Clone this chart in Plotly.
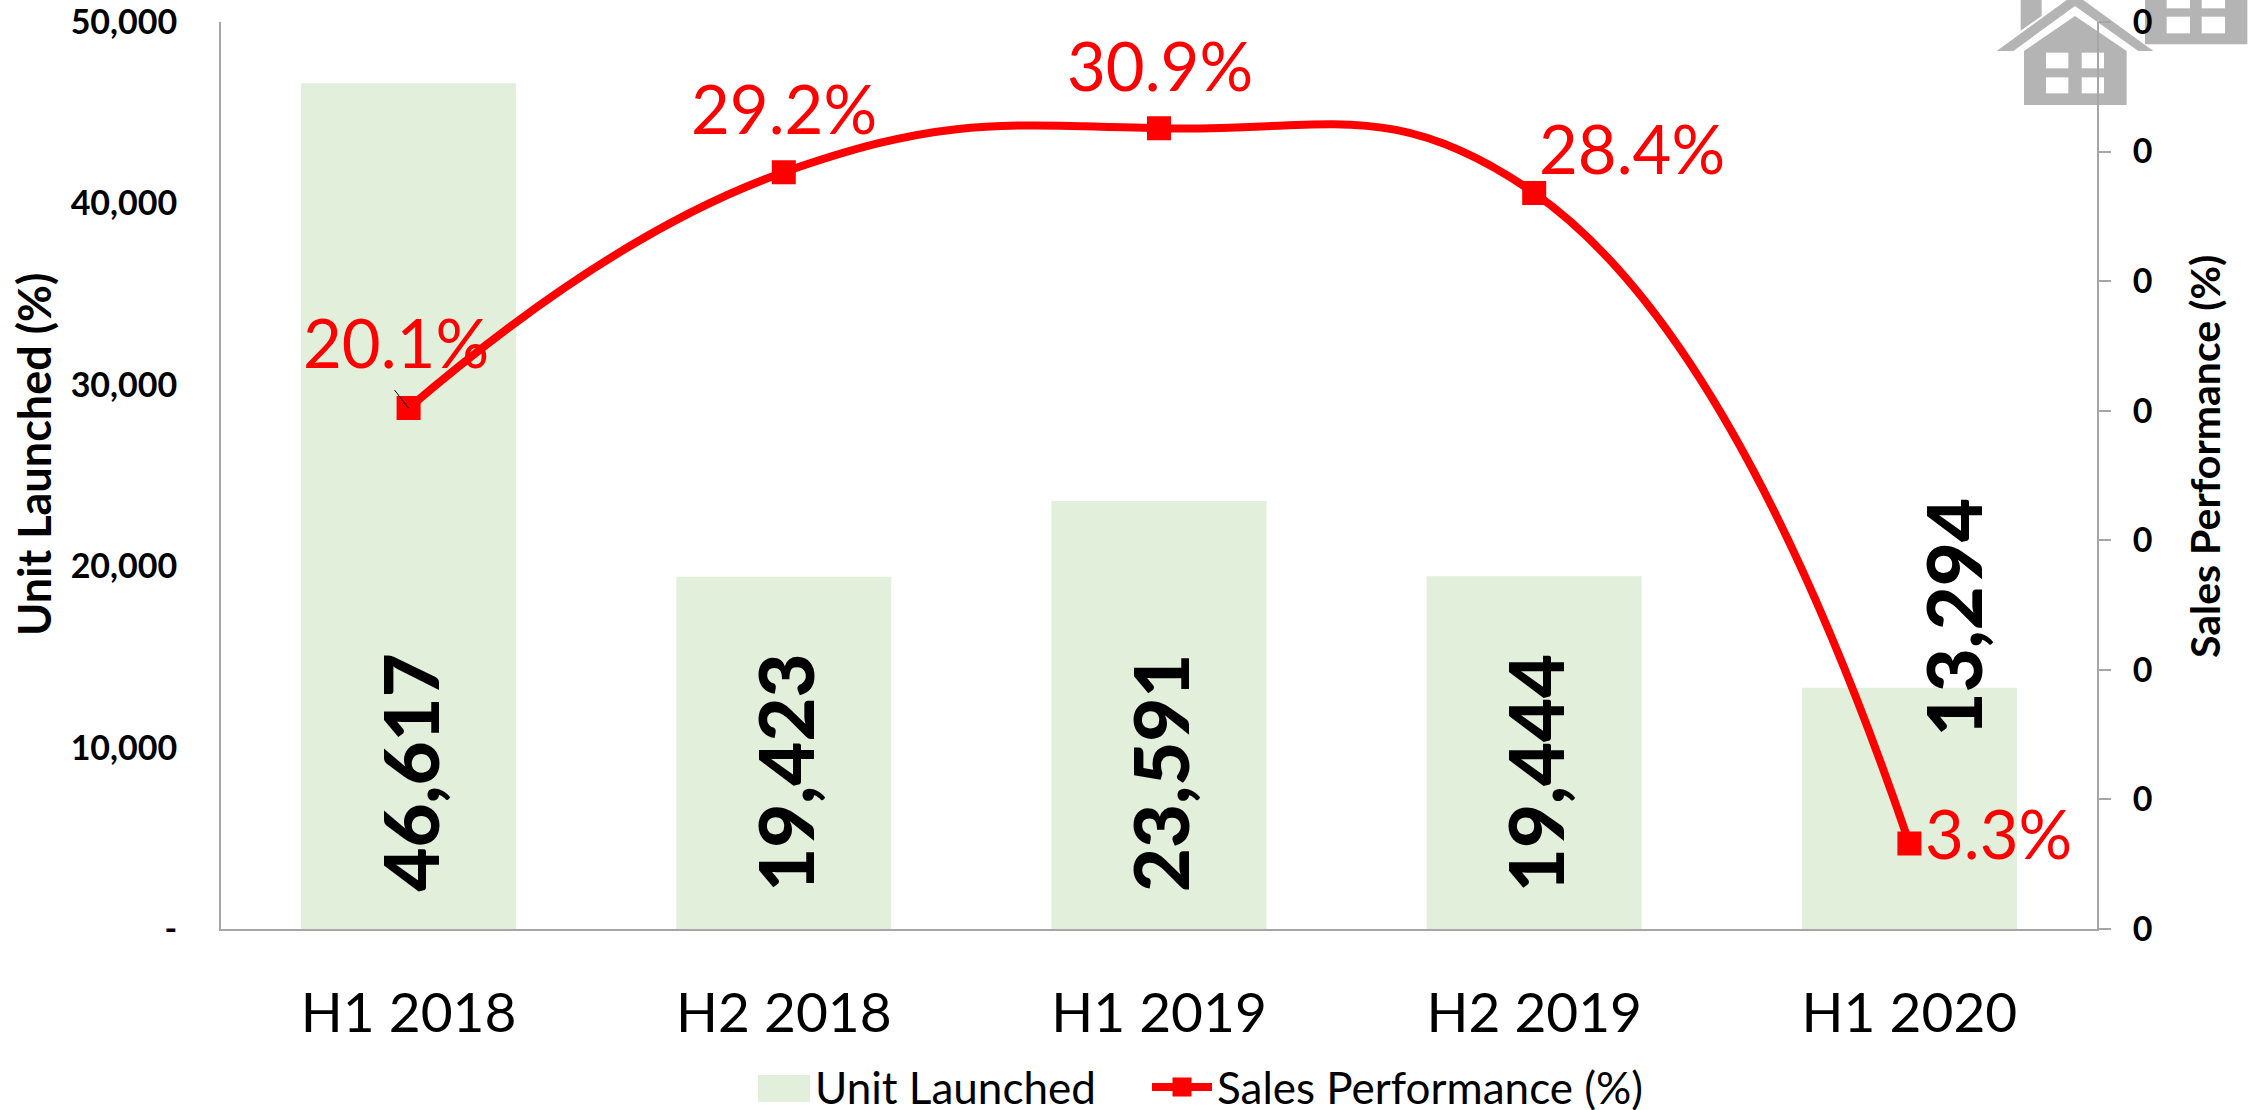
import plotly.graph_objects as go

categories = ["H1 2018", "H2 2018", "H1 2019", "H2 2019", "H1 2020"]
units = [46617, 19423, 23591, 19444, 13294]
sales = [0.201, 0.292, 0.309, 0.284, 0.033]
unit_ticks = [0, 10000, 20000, 30000, 40000, 50000]
unit_tick_text = ["-", "10,000", "20,000", "30,000", "40,000", "50,000"]
sales_ticks = [0, 0.05, 0.10, 0.15, 0.20, 0.25, 0.30, 0.35]

W, H = 2248, 1110
L, R, T, B = 221, 2097, 22, 929
FONT = "Lato"
GREEN = "#E2EFDA"
RED = "#FF0000"
AXIS = "#A6A6A6"
HOUSE = "#B4B4B4"


def px(x):
    return (x - L) / (R - L)


def py(y):
    return (B - y) / (B - T)


def poly(points, color, layer="below"):
    d = "M" + " L".join(f"{px(1900 + x / 3):.5f},{py(y / 3):.5f}" for x, y in points) + " Z"
    return dict(type="path", path=d, xref="paper", yref="paper", fillcolor=color,
                line=dict(width=0), layer=layer)


def rect(x0, y0, x1, y1, color):
    return poly([(x0, y0), (x1, y0), (x1, y1), (x0, y1)], color)


shapes = [
    poly([(362, 0), (425, 0), (425, 48), (362, 92)], HOUSE),
    poly([(290, 153), (525, -18), (760, 153), (715, 153), (525, 18), (340, 153)], HOUSE),
    poly([(372, 153), (525, 48), (680, 153), (680, 315), (372, 315)], HOUSE),
    rect(438, 158, 505, 205, "white"), rect(545, 158, 612, 205, "white"),
    rect(438, 232, 505, 280, "white"), rect(545, 232, 612, 280, "white"),
    poly([(735, 0), (1042, 0), (1042, 133), (735, 133), (735, 125)], HOUSE),
    rect(800, 0, 870, 25, "white"), rect(905, 0, 975, 25, "white"),
    rect(800, 50, 870, 100, "white"), rect(905, 50, 975, 100, "white"),
    dict(type="rect", xref="paper", yref="paper", x0=px(758), x1=px(810), y0=py(1102), y1=py(1075),
         fillcolor=GREEN, line=dict(width=0), layer="above"),
    dict(type="line", xref="x", yref="y2", xsizemode="pixel", ysizemode="pixel",
         xanchor=0, yanchor=sales[0], x0=-14, x1=0, y0=18, y1=0,
         line=dict(color="black", width=1), layer="above"),
]

fig = go.Figure()
fig.add_trace(go.Bar(x=categories, y=units, name="Unit Launched", legend="legend",
                     marker=dict(color=GREEN, line=dict(width=0)), width=0.573, yaxis="y"))
fig.add_trace(go.Scatter(x=categories, y=sales, name="Sales Performance (%)", yaxis="y2",
                         legend="legend2", mode="lines+markers",
                         line=dict(color=RED, width=8, shape="spline", smoothing=1.3),
                         marker=dict(symbol="square", color=RED, size=21,
                                     line=dict(color=RED, width=3))))

annotations = []
bar_shift = [(0, 35), (0, 35), (0, 35), (0, 35), (43, 191)]
for c, u, (dx, dy) in zip(categories, units, bar_shift):
    annotations.append(dict(x=c, y=0, xref="x", yref="y", text=f"{u:,}", showarrow=False,
                            textangle=-90, yanchor="bottom", yshift=dy, xshift=dx,
                            font=dict(family=FONT, size=76, color="black", weight=900)))
label_shift = [(-13, 66), (0, 64), (1, 63), (98, 45), (89, 10)]
for c, v, (dx, dy) in zip(categories, sales, label_shift):
    annotations.append(dict(x=c, y=v, xref="x", yref="y2", text=f"{v * 100:.1f}%", showarrow=False,
                            xshift=dx, yshift=dy, font=dict(family=FONT, size=67, color=RED)))
annotations.append(dict(x=px(34), y=py(455), xref="paper", yref="paper", text="Unit Launched (%)",
                        showarrow=False, textangle=-90, xanchor="center", yanchor="middle",
                        font=dict(family=FONT, size=45, color="black", weight="bold")))
annotations.append(dict(x=px(2205), y=py(457), xref="paper", yref="paper", text="Sales Performance (%)",
                        showarrow=False, textangle=-90, xanchor="center", yanchor="middle",
                        font=dict(family=FONT, size=41, color="black", weight="bold")))

legend_common = dict(orientation="h", y=py(1052), xanchor="left", yanchor="top",
                     font=dict(family=FONT, size=44), itemwidth=60, bgcolor="rgba(0,0,0,0)")

fig.update_layout(
    width=W, height=H, autosize=False,
    margin=dict(l=L, r=W - R, t=T, b=H - B, pad=0, autoexpand=False),
    paper_bgcolor="white", plot_bgcolor="rgba(0,0,0,0)",
    font=dict(family=FONT, color="black"),
    showlegend=True,
    legend=dict(x=px(745), **legend_common),
    legend2=dict(x=px(1147), **legend_common),
    xaxis=dict(type="category", categoryorder="array", categoryarray=categories,
               range=[-0.5, 4.5], showgrid=False, zeroline=False, showline=True, linecolor=AXIS,
               linewidth=2, ticks="", tickfont=dict(family=FONT, size=55, color="black"),
               ticklabelstandoff=35, automargin=False),
    yaxis=dict(range=[0, 50000], tickvals=unit_ticks, ticktext=unit_tick_text, showgrid=False,
               zeroline=False, showline=True, linecolor=AXIS, linewidth=2, ticks="", automargin=False,
               tickfont=dict(family=FONT, size=34, color="black", weight="bold"),
               ticklabelstandoff=35, ticklabeloverflow="allow"),
    yaxis2=dict(range=[0, 0.35], tickvals=sales_ticks, tickformat=".0f", overlaying="y", side="right",
                showgrid=False, zeroline=False, showline=True, linecolor=AXIS, linewidth=2,
                ticks="outside", ticklen=12, tickwidth=1.5, tickcolor=AXIS, automargin=False,
                tickfont=dict(family=FONT, size=34, color="black", weight="bold"),
                ticklabelstandoff=15, ticklabeloverflow="allow"),
    bargap=0.427,
    shapes=shapes,
    annotations=annotations,
)

fig.write_html("out.html", config={"displayModeBar": False},
               post_script="document.body.style.margin='0';document.body.style.overflow='hidden';")
